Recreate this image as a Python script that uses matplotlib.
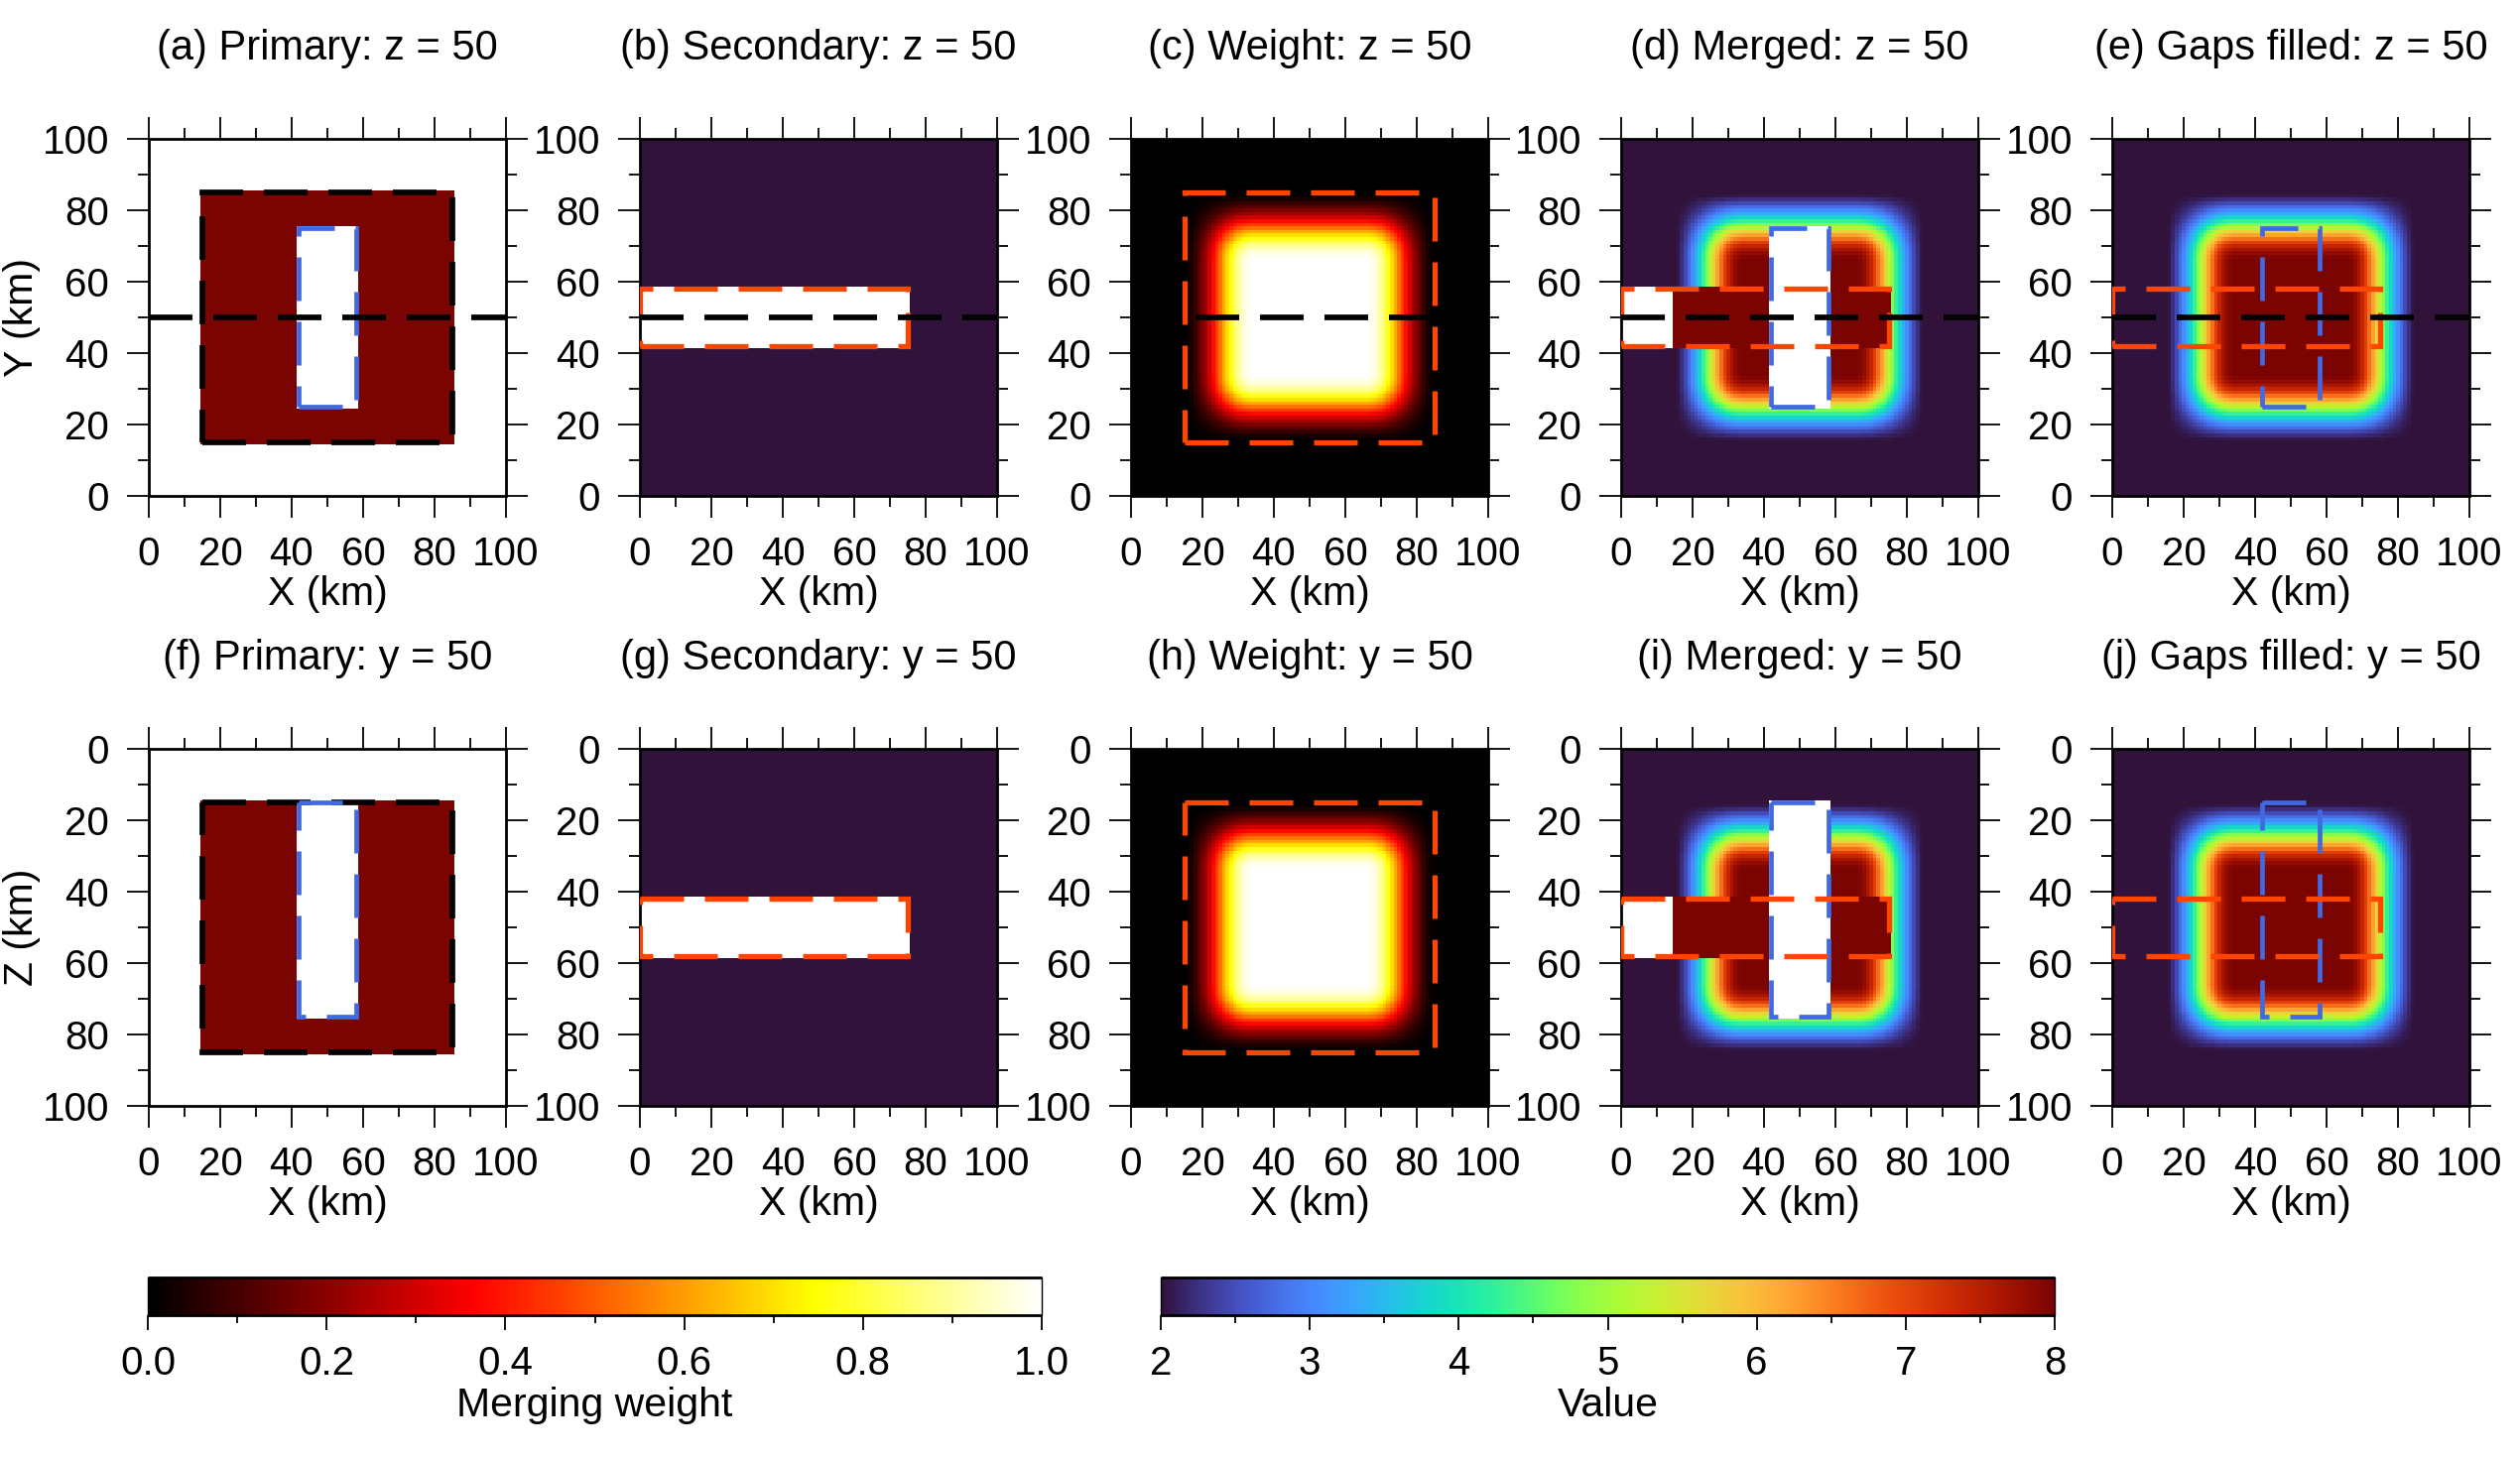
import numpy as np
import matplotlib
matplotlib.use("Agg")
import matplotlib.pyplot as plt
from matplotlib.cm import ScalarMappable
from matplotlib.colors import Normalize, LinearSegmentedColormap
from matplotlib.ticker import MultipleLocator

plt.rcParams['font.family'] = ['Liberation Sans', 'DejaVu Sans']

# ---------------- data ----------------
grid_nodes_km = np.arange(0, 101)          # model grid nodes (1 km spacing)
primary_value = 8.0
secondary_value = 2.0
primary_domain = [15, 85, 15, 85]          # x0, x1, y0/z0, y1/z1 (km)
primary_gap_xy = [42, 58, 25, 75]          # x0, x1, y0, y1
primary_gap_xz = [42, 58, 15, 75]          # x0, x1, z0, z1
secondary_gap_xy = [0, 75, 42, 58]
secondary_gap_xz = [0, 75, 42, 58]
# merging weight vs. distance (km) inside the primary-domain edge
taper_weight = [0.0, 0.01, 0.04, 0.08, 0.13, 0.18, 0.23, 0.30, 0.38, 0.46,
                0.54, 0.62, 0.70, 0.77, 0.84, 0.90, 0.94, 0.97, 0.99, 1.0]
slice_level = 50
value_range = [2, 8]
weight_range = [0.0, 1.0]
value_ticks = [2, 3, 4, 5, 6, 7, 8]
weight_ticks = [0.0, 0.2, 0.4, 0.6, 0.8, 1.0]
axis_ticks = [0, 20, 40, 60, 80, 100]
titles_row1 = ["(a) Primary: z = 50", "(b) Secondary: z = 50", "(c) Weight: z = 50",
               "(d) Merged: z = 50", "(e) Gaps filled: z = 50"]
titles_row2 = ["(f) Primary: y = 50", "(g) Secondary: y = 50", "(h) Weight: y = 50",
               "(i) Merged: y = 50", "(j) Gaps filled: y = 50"]

# ---------------- fields ----------------
nodes = np.asarray(grid_nodes_km)
lo, hi = primary_domain[0], primary_domain[1]
dist = np.minimum(nodes - lo, hi - nodes)
tw = np.asarray(taper_weight)
w1 = np.where(dist < 0, 0.0, tw[np.clip(dist, 0, len(tw) - 1)])
W = np.outer(w1, w1)
inside1 = dist >= 0
inside = np.outer(inside1, inside1)


def box_mask(b):
    x0, x1, y0, y1 = b
    xm = (nodes >= x0) & (nodes <= x1)
    ym = (nodes >= y0) & (nodes <= y1)
    return np.outer(ym, xm)


def fields(pgap, sgap):
    P = np.where(inside, primary_value, np.nan)
    P[box_mask(pgap)] = np.nan
    S = np.full(W.shape, secondary_value)
    S[box_mask(sgap)] = np.nan
    M = W * P + (1 - W) * S
    M = np.where(np.isnan(S) & ~np.isnan(P), P, M)
    M = np.where(~inside, S, M)
    F = W * primary_value + (1 - W) * secondary_value
    return [P, S, W, M, F]


# ---------------- figure ----------------
FW, FH = 2540, 1469
fig = plt.figure(figsize=(FW / 100, FH / 100), dpi=100)

lefts = [150, 645, 1140, 1634, 2129]
PW = 360
row_tops = [140, 755]

turbo = plt.get_cmap('turbo').copy()
turbo.set_bad('white')
hot = LinearSegmentedColormap('gmt_hot', {
    'red':   [(0.0, 0.0, 0.0), (0.365, 1.0, 1.0), (1.0, 1.0, 1.0)],
    'green': [(0.0, 0.0, 0.0), (0.365, 0.0, 0.0), (0.746, 1.0, 1.0), (1.0, 1.0, 1.0)],
    'blue':  [(0.0, 0.0, 0.0), (0.746, 0.0, 0.0), (1.0, 1.0, 1.0)]}, N=256)
hot.set_bad('white')
vnorm = Normalize(*value_range)
wnorm = Normalize(*weight_range)

BLACK = 'black'
ORANGE = '#ff4500'
BLUE = '#4169e1'
DASH, GAP = 31.7, 15.1


def dashed(ax, xs, ys, color, lw):
    ax.plot(xs, ys, color=color, lw=lw, linestyle=(0, (DASH / lw, GAP / lw)),
            dash_capstyle='butt', dash_joinstyle='miter', zorder=5)


def box(ax, b, color, lw):
    x0, x1, y0, y1 = b
    dashed(ax, [x0, x1, x1, x0, x0], [y0, y0, y1, y1, y0], color, lw)


def fmt(ax, invert):
    ax.set_xlim(0, 100)
    if invert:
        ax.set_ylim(100, 0)
    else:
        ax.set_ylim(0, 100)
    for axis in (ax.xaxis, ax.yaxis):
        axis.set_major_locator(MultipleLocator(20))
        axis.set_minor_locator(MultipleLocator(10))
    ax.set_xticks(axis_ticks)
    ax.set_yticks(axis_ticks)
    ax.tick_params(which='both', direction='out', top=True, right=True,
                   labeltop=False, labelright=False, width=1.3, labelsize=29, pad=13)
    ax.tick_params(which='major', length=15.8)
    ax.tick_params(which='minor', length=7.9)
    for s in ax.spines.values():
        s.set_linewidth(2.0)


for r, (top, titles) in enumerate(zip(row_tops, [titles_row1, titles_row2])):
    pgap = primary_gap_xy if r == 0 else primary_gap_xz
    sgap = secondary_gap_xy if r == 0 else secondary_gap_xz
    data = fields(pgap, sgap)
    for c in range(5):
        ax = fig.add_axes([lefts[c] / FW, 1 - (top + PW) / FH, PW / FW, PW / FH])
        cmap, norm = (hot, wnorm) if c == 2 else (turbo, vnorm)
        ax.imshow(data[c], cmap=cmap, norm=norm, origin='lower',
                  extent=(-0.5, 100.5, -0.5, 100.5), interpolation='nearest', aspect='auto')
        fmt(ax, invert=(r == 1))
        if c == 0:
            box(ax, primary_domain, BLACK, 4.1)
            box(ax, pgap, BLUE, 3.4)
        elif c == 1:
            box(ax, sgap, ORANGE, 3.8)
        elif c == 2:
            box(ax, primary_domain, ORANGE, 3.8)
        else:
            box(ax, pgap, BLUE, 3.4)
            box(ax, sgap, ORANGE, 3.8)
        if r == 0:
            dashed(ax, [0, 100], [slice_level, slice_level], BLACK, 4.1)
        cx = (lefts[c] + PW / 2) / FW
        fig.text(cx, 1 - (top - 91) / FH, titles[c], ha='center', va='center', fontsize=30)
        fig.text(cx, 1 - (top + 459) / FH, "X (km)", ha='center', va='center', fontsize=29.5)
    fig.text(22 / FW, 1 - (top + PW / 2) / FH, "Y (km)" if r == 0 else "Z (km)",
             rotation=90, ha='center', va='center', fontsize=29.5)

# ---------------- colorbars ----------------
CB_TOP, CB_H, CB_W = 1288, 38, 901
for left, cmap, norm, ticks, minor, label in [
        (149, hot, wnorm, weight_ticks, 0.1, "Merging weight"),
        (1170, turbo, vnorm, value_ticks, 0.5, "Value")]:
    cax = fig.add_axes([left / FW, 1 - (CB_TOP + CB_H) / FH, CB_W / FW, CB_H / FH])
    cb = fig.colorbar(ScalarMappable(norm=norm, cmap=cmap), cax=cax, orientation='horizontal')
    cb.set_ticks(ticks)
    if cmap is hot:
        cb.set_ticklabels([f"{t:.1f}" for t in ticks])
    cax.xaxis.set_minor_locator(MultipleLocator(minor))
    cax.tick_params(which='both', direction='out', width=1.3, labelsize=29, pad=11)
    cax.tick_params(which='major', length=10.8)
    cax.tick_params(which='minor', length=5.8)
    cb.outline.set_linewidth(1.0)
    for yy in (0, 1):
        cax.plot([0, 1], [yy, yy], transform=cax.transAxes, color='black', lw=2.0,
                 clip_on=False, solid_capstyle='butt')
    fig.text((left + CB_W / 2) / FW, 1 - 1417 / FH, label, ha='center', va='center', fontsize=29.5)

fig.savefig("out.png", dpi=100)
